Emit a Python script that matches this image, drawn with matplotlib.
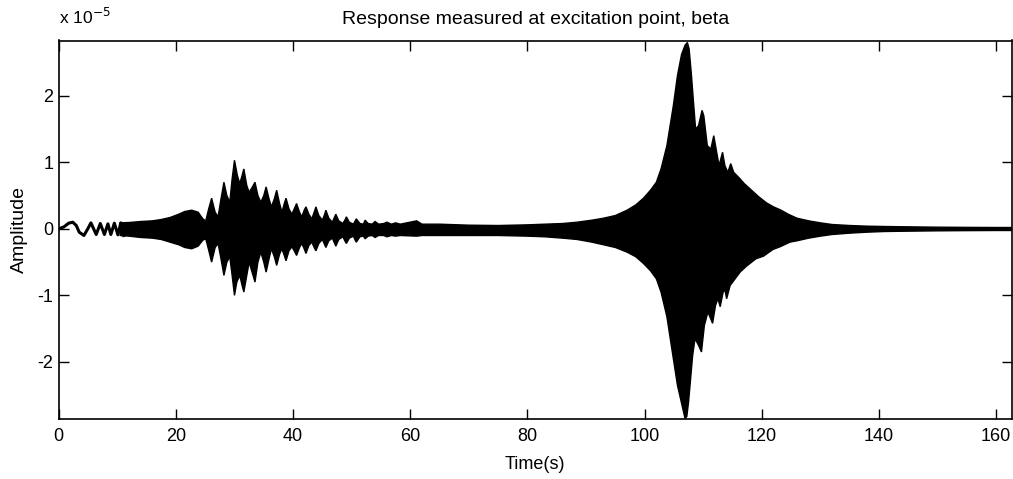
import numpy as np
import matplotlib
matplotlib.use("Agg")
import matplotlib.pyplot as plt

plt.rcParams['font.family'] = ['Liberation Sans', 'DejaVu Sans']

# ---- data (amplitude in units of 1e-5) ----
# early low-frequency oscillation: points
early_t = [0, 0.9, 1.7, 2.4, 3.0, 3.5, 4.3, 4.9, 5.5, 6.4, 7.1, 7.8, 8.4, 8.9, 9.5, 10.1, 10.6, 11.1]
early_v = [0, 0.03, 0.085, 0.10, 0.05, -0.05, -0.10, -0.01, 0.09, -0.085, 0.08, -0.085, 0.075, -0.085, 0.085, -0.09, 0.09, -0.10]

# upper envelope of the dense oscillation
up_t = [10.5, 12, 14, 16, 17.5, 19, 20.5, 21.5, 22.7, 23.8, 24.6, 25.1, 25.6, 26.1, 26.7, 27.2,
        27.7, 28.2, 28.7, 29.2, 29.6, 30.0, 30.5, 30.9, 31.3, 31.6, 32.1, 32.5, 33.0, 33.5, 34.0,
        34.5, 35.0, 35.4, 35.9, 36.3, 36.8, 37.2, 37.7, 38.1, 38.5, 38.8, 39.3, 39.8, 40.2, 40.6,
        41.1, 41.5, 41.9, 42.2, 42.7, 43.2, 43.6, 43.9, 44.4, 45.0, 45.4, 45.6, 46.1, 46.7, 47.1,
        47.3, 47.8, 48.5, 48.9, 49.1, 49.6, 50.3, 50.6, 50.8, 51.4, 52.0, 52.3, 52.8, 53.5, 54.0,
        54.6, 55.5, 56.0, 56.8, 57.5, 58.3, 61.1, 62, 65, 70, 75, 80, 83, 86, 88.5, 91, 93, 95,
        97, 98.5, 99.8, 101, 102, 102.8, 103.8, 104.9, 105.6, 106.3, 106.9, 107.3, 107.6, 108.0,
        108.3, 108.7, 109.2, 109.8, 110.1, 110.7, 111.3, 111.8, 112.2, 112.7, 113.3, 113.7, 114.2,
        114.7, 115.2, 116.2, 117, 118, 119.5, 120.8, 122, 123.3, 124.5, 126, 128, 130, 132, 135,
        138, 141, 145, 150, 155, 160, 162.7]
up_v = [0.09, 0.095, 0.11, 0.12, 0.14, 0.17, 0.22, 0.26, 0.28, 0.25, 0.15, 0.12, 0.30, 0.46, 0.25, 0.18,
        0.45, 0.70, 0.50, 0.40, 0.75, 1.03, 0.80, 0.68, 0.80, 0.90, 0.65, 0.55, 0.62, 0.70, 0.50,
        0.40, 0.50, 0.63, 0.45, 0.33, 0.45, 0.58, 0.38, 0.25, 0.38, 0.46, 0.30, 0.22, 0.30, 0.38,
        0.25, 0.18, 0.28, 0.33, 0.22, 0.15, 0.25, 0.33, 0.20, 0.13, 0.22, 0.28, 0.16, 0.10, 0.18,
        0.22, 0.12, 0.08, 0.14, 0.18, 0.10, 0.07, 0.12, 0.15, 0.08, 0.07, 0.13, 0.08, 0.07, 0.11,
        0.07, 0.08, 0.10, 0.07, 0.09, 0.07, 0.12, 0.07, 0.07, 0.055, 0.05, 0.06, 0.07, 0.08, 0.10, 0.13, 0.16, 0.20,
        0.28, 0.36, 0.46, 0.58, 0.70, 0.90, 1.25, 1.85, 2.30, 2.62, 2.76, 2.80, 2.70, 2.30,
        1.95, 1.50, 1.55, 1.78, 1.70, 1.25, 1.20, 1.40, 1.20, 0.95, 1.15, 0.95, 0.85,
        0.98, 0.85, 0.76, 0.68, 0.60, 0.48, 0.39, 0.33, 0.28, 0.22, 0.16, 0.12, 0.09, 0.065, 0.05,
        0.04, 0.035, 0.03, 0.025, 0.022, 0.02, 0.02]

# lower envelope of the dense oscillation
lo_t = [10.5, 12, 14, 16, 17.5, 19, 20.5, 21.5, 22.7, 23.8, 24.6, 25.1, 25.6, 26.1, 26.7, 27.2,
        27.7, 28.2, 28.7, 29.2, 29.6, 30.0, 30.4, 30.9, 31.3, 31.6, 32.1, 32.5, 33.0, 33.5, 34.0,
        34.5, 35.0, 35.4, 35.9, 36.3, 36.8, 37.2, 37.7, 38.1, 38.5, 38.8, 39.3, 39.8, 40.2, 40.6,
        41.1, 41.5, 41.9, 42.2, 42.7, 43.2, 43.6, 43.9, 44.4, 45.0, 45.4, 45.6, 46.1, 46.7, 47.1,
        47.3, 47.8, 48.5, 48.9, 49.1, 49.6, 50.3, 50.6, 50.8, 51.4, 52.0, 52.3, 52.8, 53.5, 54.0,
        54.6, 55.5, 56.0, 56.8, 57.5, 58.3, 61.1, 62, 65, 70, 75, 80, 83, 86, 88.5, 91, 93, 95,
        97, 98.5, 99.8, 101, 102, 102.8, 103.8, 104.9, 105.6, 106.3, 106.9, 107.2, 107.5, 107.8,
        108.2, 108.6, 109.2, 109.7, 110.2, 110.8, 111.6, 112.1, 112.5, 112.9, 113.4, 113.7, 114.0,
        114.6, 115.2, 116.3, 117.4, 119, 120.3, 121.9, 123.1, 124.8, 126, 128, 130, 132, 135,
        138, 141, 145, 150, 155, 160, 162.7]
lo_v = [-0.10, -0.11, -0.13, -0.14, -0.16, -0.20, -0.24, -0.28, -0.30, -0.26, -0.17, -0.15, -0.32, -0.50, -0.28, -0.22,
        -0.45, -0.70, -0.50, -0.42, -0.70, -1.00, -0.80, -0.70, -0.85, -0.95, -0.70, -0.50, -0.65, -0.80, -0.50,
        -0.35, -0.50, -0.65, -0.45, -0.30, -0.42, -0.55, -0.38, -0.30, -0.40, -0.48, -0.33, -0.27, -0.33, -0.40,
        -0.28, -0.22, -0.30, -0.37, -0.25, -0.20, -0.28, -0.33, -0.22, -0.16, -0.24, -0.28, -0.18, -0.14, -0.22,
        -0.26, -0.16, -0.12, -0.19, -0.22, -0.14, -0.11, -0.17, -0.20, -0.12, -0.11, -0.15, -0.11, -0.10, -0.13,
        -0.10, -0.10, -0.12, -0.10, -0.11, -0.10, -0.11, -0.10, -0.10, -0.10, -0.10, -0.11, -0.12, -0.14, -0.16, -0.20, -0.24, -0.28,
        -0.35, -0.42, -0.52, -0.63, -0.75, -0.95, -1.32, -1.95, -2.35, -2.62, -2.85, -2.82, -2.60, -2.30,
        -1.90, -1.65, -1.75, -1.85, -1.45, -1.25, -1.42, -1.15, -1.05, -1.17, -0.95, -0.92, -1.05,
        -0.85, -0.78, -0.65, -0.56, -0.45, -0.41, -0.31, -0.27, -0.20, -0.18, -0.14, -0.11, -0.085, -0.065,
        -0.05, -0.04, -0.035, -0.03, -0.027, -0.025, -0.025]

x_ticks = [0, 20, 40, 60, 80, 100, 120, 140, 160]
y_ticks = [-2, -1, 0, 1, 2]

# ---- figure ----
W, H = 1013, 479
fig = plt.figure(figsize=(W / 100, H / 100), dpi=100)
ax = fig.add_axes([58.7 / W, 1 - 418.5 / H, (1012 - 58.7) / W, (418.5 - 40.5) / H])

ax.plot(early_t, early_v, color='black', lw=2.2, solid_joinstyle='round')
poly_t = np.concatenate([up_t, lo_t[::-1]])
poly_v = np.concatenate([up_v, lo_v[::-1]])
ax.fill(poly_t, poly_v, facecolor='black', edgecolor='black', lw=1.0)

ax.set_xlim(0, 162.7)
ax.set_ylim(-2.85, 2.83)
ax.set_xticks(x_ticks)
ax.set_yticks(y_ticks)
ax.set_xticklabels([str(v) for v in x_ticks])
ax.set_yticklabels([str(v) for v in y_ticks])
ax.tick_params(axis='x', pad=7)
ax.tick_params(axis='y', pad=4)
ax.tick_params(direction='in', length=7, width=1.0, top=True, right=True,
               labelsize=13, colors='black')
for s in ax.spines.values():
    s.set_linewidth(1.2)
    s.set_color('black')

ax.set_title('Response measured at excitation point, beta', fontsize=14, pad=12)
ax.set_xlabel('Time(s)', fontsize=13, labelpad=8)
ax.set_ylabel('Amplitude', fontsize=14, labelpad=7)
ax.text(0.0, 1.035, r'x 10$^{-5}$', transform=ax.transAxes, fontsize=12.5,
        ha='left', va='bottom')

fig.savefig('out.png', dpi=100)
